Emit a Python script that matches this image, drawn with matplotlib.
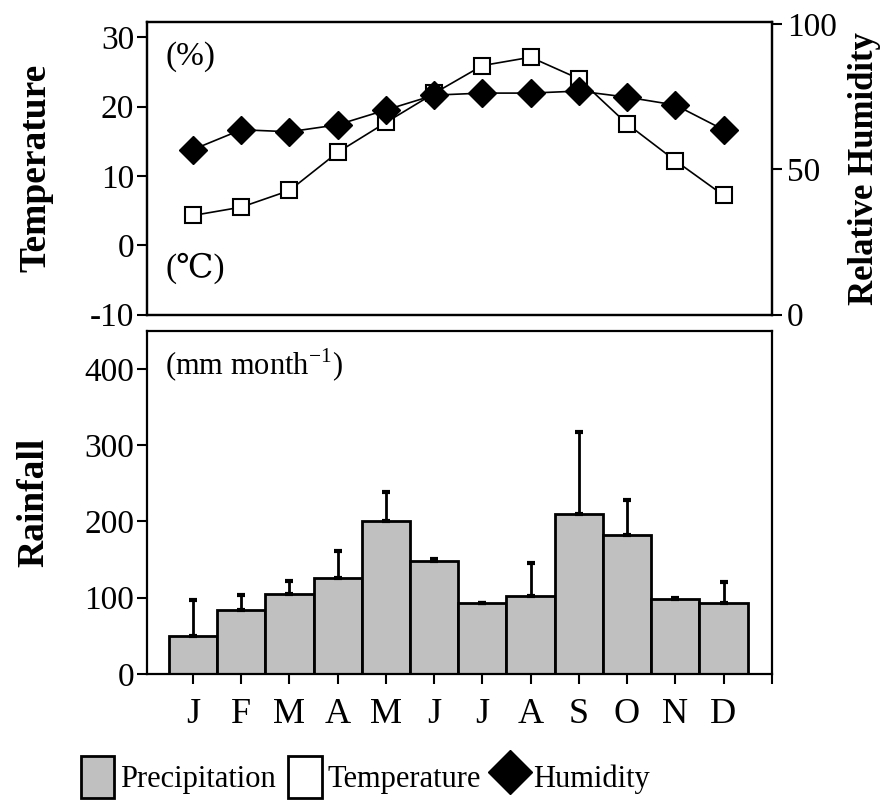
import numpy as np
import matplotlib
matplotlib.use("Agg")
import matplotlib.pyplot as plt
from matplotlib.patches import Patch
from matplotlib.lines import Line2D

months = ['J', 'F', 'M', 'A', 'M', 'J', 'J', 'A', 'S', 'O', 'N', 'D']
temperature = [4.3, 5.5, 7.9, 13.4, 17.7, 21.9, 25.9, 27.1, 24.0, 17.5, 12.2, 7.2]
humidity = [56.8, 63.6, 62.9, 65.3, 70.4, 75.5, 76.2, 76.2, 76.9, 74.8, 72.1, 63.6]
rainfall = [50, 84, 105, 126, 200, 148, 93, 102, 210, 182, 98, 93]
rainfall_err = [47, 19, 17, 35, 39, 3, 0, 43, 107, 46, 1, 27]

plt.rcParams['font.family'] = ['Liberation Serif', 'DejaVu Serif']
plt.rcParams['mathtext.fontset'] = 'custom'
plt.rcParams['mathtext.rm'] = 'Liberation Serif'
plt.rcParams['axes.unicode_minus'] = False
plt.rcParams['axes.linewidth'] = 1.6

x = np.arange(len(months))
fig = plt.figure(figsize=(8.84, 8.09), dpi=100)

# top panel: temperature + humidity
ax1 = fig.add_axes([0.166, 0.611, 0.707, 0.362])
ax1.plot(x, temperature, color='black', lw=1.2, marker='s', ms=12,
         mfc='white', mec='black', mew=1.5)
ax1.set_xlim(-0.96, 12.0)
ax1.set_ylim(-10, 32.2)
ax1.set_yticks([-10, 0, 10, 20, 30])
ax1.set_xticks([])
ax1.tick_params(axis='y', direction='out', length=7, width=1.5, labelsize=24, pad=2)
ax1.set_ylabel('Temperature', fontsize=27, fontweight='bold', labelpad=26)
ax1.text(0.03, 0.88, '(%)', transform=ax1.transAxes, fontsize=24, va='center')
ax1.text(0.03, 0.16, '(\u2103)', transform=ax1.transAxes, fontsize=24, va='center')

ax2 = ax1.twinx()
ax2.plot(x, humidity, color='black', lw=1.2, marker='D', ms=14,
         mfc='black', mec='black')
ax2.set_ylim(0, 100.7)
ax2.set_yticks([0, 50, 100])
ax2.tick_params(axis='y', direction='out', length=7, width=1.5, labelsize=24, pad=4)
ax2.set_ylabel('Relative Humidity', fontsize=25, fontweight='bold', labelpad=8)

# bottom panel: rainfall
ax3 = fig.add_axes([0.166, 0.167, 0.707, 0.424])
ax3.bar(x, rainfall, width=1.0, color='#c0c0c0', edgecolor='black', lw=2,
        yerr=[np.zeros(len(x)), rainfall_err], capsize=3,
        error_kw=dict(ecolor='black', elinewidth=2, capthick=3))
ax3.set_xlim(-0.96, 12.0)
ax3.set_ylim(0, 450)
ax3.set_yticks([0, 100, 200, 300, 400])
ax3.set_xticks(list(x) + [12])
ax3.set_xticklabels(months + [''])
ax3.tick_params(axis='y', direction='out', length=7, width=1.5, labelsize=24, pad=2)
ax3.tick_params(axis='x', direction='out', length=7, width=1.5, labelsize=26, pad=10)
ax3.set_ylabel('Rainfall', fontsize=27, fontweight='bold', labelpad=24)
ax3.text(0.03, 0.9, '(mm month$^{\\mathregular{-1}}$)', transform=ax3.transAxes,
         fontsize=22, va='center')

handles = [
    Patch(facecolor='#c0c0c0', edgecolor='black', lw=2),
    Patch(facecolor='white', edgecolor='black', lw=2),
    Line2D([], [], marker='D', color='black', ls='none', ms=22),
]
fig.legend(handles, ['Precipitation', 'Temperature', 'Humidity'],
           loc='lower left', bbox_to_anchor=(0.06, -0.02), ncol=3,
           frameon=False, fontsize=22, handlelength=1.1, handleheight=1.7,
           handletextpad=0.2, columnspacing=0.4)

fig.savefig('out.png', dpi=100)
